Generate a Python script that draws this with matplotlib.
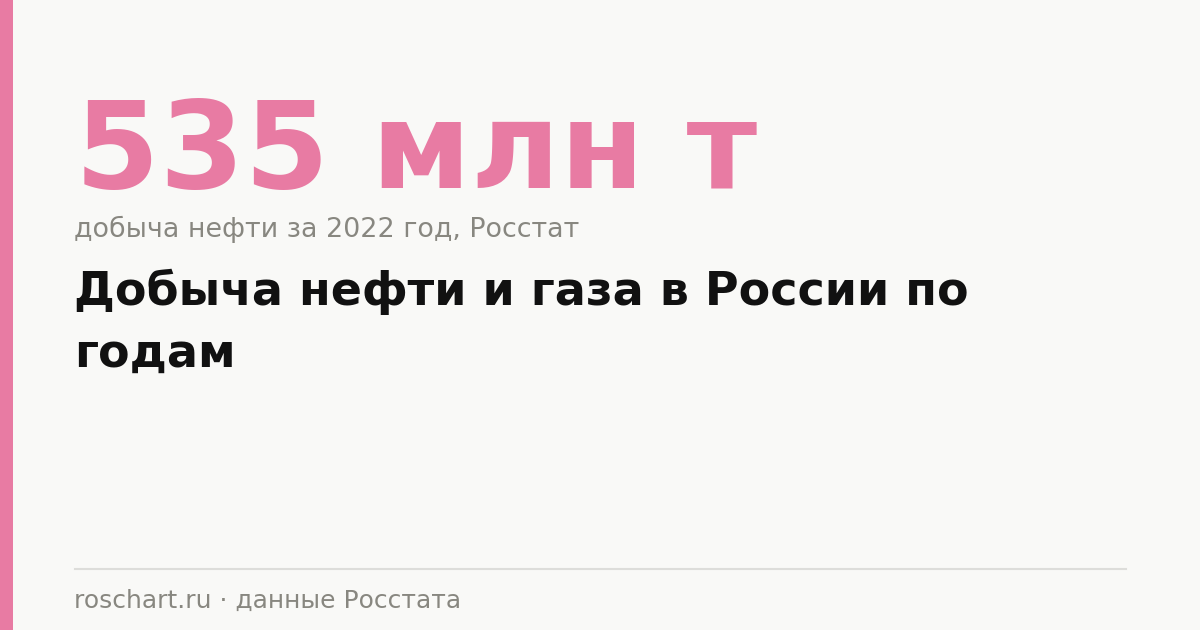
import matplotlib
matplotlib.use("Agg")
import matplotlib.pyplot as plt
from matplotlib.patches import Rectangle
from matplotlib.lines import Line2D

# card content
big_value = "535 млн т"
value_note = "добыча нефти за 2022 год, Росстат"
title_lines = ["Добыча нефти и газа в России по", "годам"]
footer = "roschart.ru · данные Росстата"

W, H = 1200, 630
pink = "#E87BA3"
grey = "#888780"
bg = "#F9F9F7"

plt.rcParams['font.family'] = ['DejaVu Sans']

fig = plt.figure(figsize=(W / 100, H / 100), dpi=100, facecolor=bg)

def fy(py):
    return 1 - py / H

def fx(px):
    return px / W

# left accent bar
fig.patches.append(Rectangle((0, 0), fx(13), 1, transform=fig.transFigure,
                             facecolor=pink, edgecolor="none"))

fig.text(fx(75), fy(188), big_value, fontsize=87.7, fontweight="bold",
         color=pink, va="baseline", ha="left")
fig.text(fx(74.5), fy(237), value_note, fontsize=19.4, color=grey,
         va="baseline", ha="left")
for i, line in enumerate(title_lines):
    fig.text(fx(74.5), fy(305 + i * 62), line, fontsize=33.1, fontweight="bold",
             color="#111111", va="baseline", ha="left")

fig.lines.append(Line2D([fx(75), fx(1126)], [fy(569), fy(569)],
                        transform=fig.transFigure, color="#DDDDDA", lw=1.5))
fig.text(fx(74.5), fy(608), footer, fontsize=18, color=grey,
         va="baseline", ha="left")

fig.savefig("out.png", dpi=100, facecolor=bg)
